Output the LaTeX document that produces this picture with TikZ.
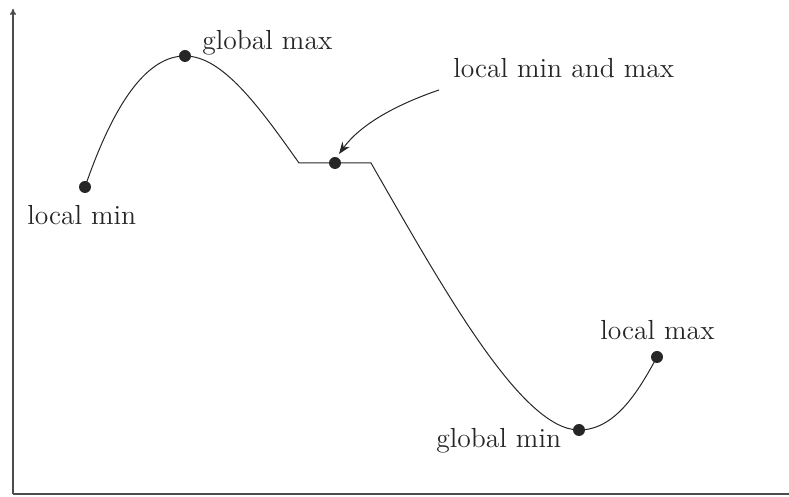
\documentclass[tikz,border=0pt]{standalone}
\usetikzlibrary{arrows.meta}
\begin{document}
\begin{tikzpicture}[x=0.5pt,y=-0.5pt,
  dot/.style={circle,fill=black!85,inner sep=0pt,minimum size=6pt},
  lbl/.style={inner sep=0pt,font=\fontsize{13.8}{16}\selectfont,text=black!85},
  curve/.style={line width=0.5pt,black!85},
  axis/.style={line width=0.8pt,black!70}]
\useasboundingbox (0,0) rectangle (789,497);
% axes
\coordinate (o) at (13,494);
\coordinate (ytop) at (13,9);
\coordinate (xend) at (789,494);
\draw[axis,-{To[length=3pt,width=3pt]}] (o) -- (ytop);
\draw[axis] (o) -- (xend);
% points
\node[dot] (lmin) at (85,187) {};
\node[dot] (gmax) at (185,56) {};
\coordinate (c1) at (299,163);
\node[dot] (lmm) at (335,163) {};
\coordinate (c2) at (371,163);
\node[dot] (gmin) at (579,430) {};
\node[dot] (lmax) at (657,357) {};
% curve
\draw[curve] (lmin.center) .. controls (115,100) and (148,56) .. (gmax.center)
  .. controls (222,56) and (258,105) .. (c1) -- (lmm.center) -- (c2)
  .. controls (445,292) and (522,430) .. (gmin.center)
  .. controls (615,430) and (638,392) .. (lmax.center);
% labels
\node[lbl,anchor=west] (tgmax) at (202,43) {global max};
\node[lbl,anchor=west] (tlmm) at (453,68) {local min and max};
\node[lbl,anchor=west] (tlmin) at (27,215) {local min};
\node[lbl,anchor=west] (tlmax) at (600,330) {local max};
\node[lbl,anchor=west] (tgmin) at (436,441) {global min};
% arrow
\draw[curve,-{Stealth[length=6pt,width=4.5pt]}] (tlmm.west) ++(-14,22) coordinate (as)
  .. controls (395,105) and (360,125) .. (339,154);
\end{tikzpicture}
\end{document}
